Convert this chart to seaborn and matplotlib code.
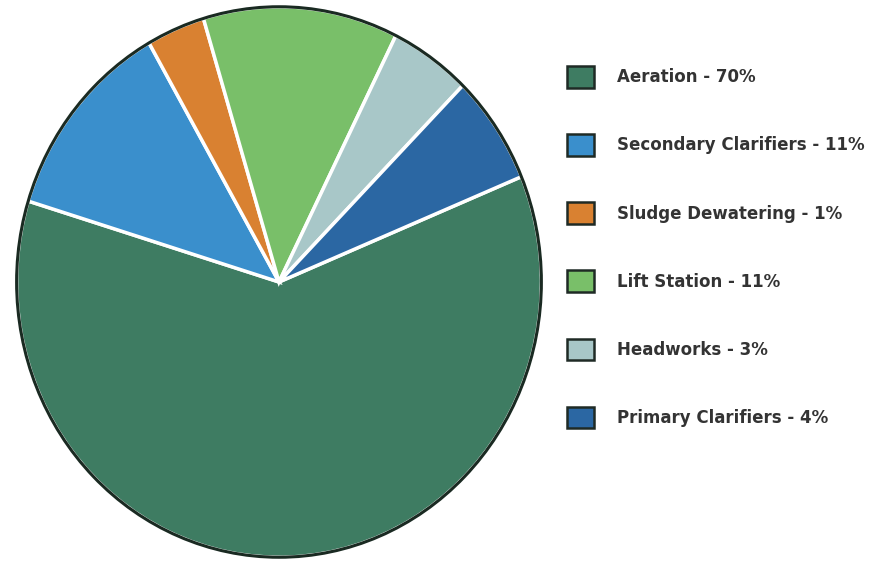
import matplotlib
matplotlib.use("Agg")
import matplotlib.pyplot as plt
import seaborn as sns
from matplotlib.patches import Patch, Ellipse

sns.set_theme(style="white")
plt.rcParams['font.family'] = ['DejaVu Sans']

categories = ["Aeration", "Secondary Clarifiers", "Sludge Dewatering",
              "Lift Station", "Headworks", "Primary Clarifiers"]
legend_pct = [70, 11, 1, 11, 3, 4]
# wedge sizes as drawn in the picture
wedge_values = [61.0, 12.0, 3.6, 12.0, 5.0, 6.4]
colors = ["#3e7c62", "#3a8fcc", "#d98131", "#79bf69", "#a8c7c8", "#2b67a3"]
labels = [f"{c} - {p}%" for c, p in zip(categories, legend_pct)]

fig = plt.figure(figsize=(8.69, 5.65), dpi=100)
ax = fig.add_axes([14/869, 5/565, 530/869, 556/565])
ax.pie(wedge_values, colors=colors, startangle=22.5, counterclock=False,
       radius=1.0, wedgeprops=dict(edgecolor="white", linewidth=2.5))
ax.set_aspect("auto")
ax.set_xlim(-1.01, 1.01)
ax.set_ylim(-1.01, 1.01)
ax.add_patch(Ellipse((0, 0), 2.0, 2.0, fill=False, edgecolor="#1a2a22",
                     linewidth=2.2, zorder=5))
ax.axis("off")

handles = [Patch(facecolor=c, edgecolor="#1f2a25", linewidth=1.8) for c in colors]
fig.legend(handles, labels, loc="upper left", bbox_to_anchor=(567/869, 1 - 66/565),
           frameon=False, borderpad=0, borderaxespad=0,
           handlelength=1.62, handleheight=1.62, handletextpad=1.4,
           labelspacing=2.79,
           prop=dict(size=12, weight="bold"), labelcolor="#333333")

fig.savefig("out.png", dpi=100, facecolor="white")
